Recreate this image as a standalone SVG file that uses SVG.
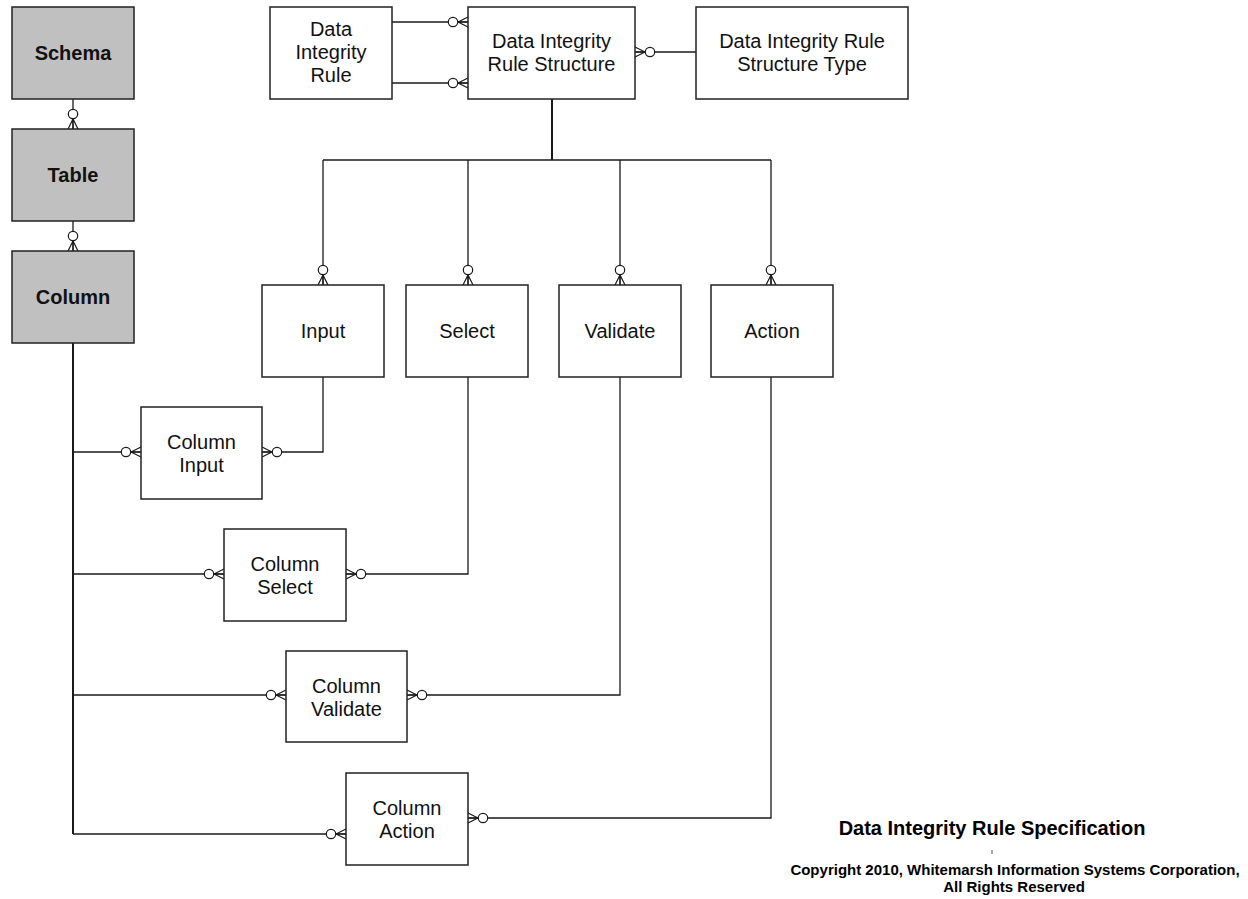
<svg xmlns="http://www.w3.org/2000/svg" width="1248" height="899" viewBox="0 0 1248 899">
  <style>
    .box { fill: #ffffff; stroke: #222222; stroke-width: 1.5; }
    .core { fill: #c0c0c0; stroke: #222222; stroke-width: 1.5; }
    .lbl { font-family: "Liberation Sans", Arial, sans-serif; font-size: 20px; fill: #111111; text-anchor: middle; }
    .bold { font-weight: bold; }
    .link { fill: none; stroke: #1a1a1a; stroke-width: 1.3; }
    .trunk { fill: none; stroke: #1a1a1a; stroke-width: 2; }
    .foot { font-family: "Liberation Sans", Arial, sans-serif; font-weight: bold; fill: #000000; text-anchor: middle; }
  </style>
  <defs>
    <!-- zero-or-many end: open circle plus crow's foot touching the entity -->
    <marker id="zeroMany" markerUnits="userSpaceOnUse" orient="auto" markerWidth="26" markerHeight="14" viewBox="-24 -7 26 14" refX="0" refY="0" overflow="visible">
      <path d="M-10,0 L0,-5 M-10,0 L0,5 M-10,0 L0,0" fill="none" stroke="#1a1a1a" stroke-width="1.2"/>
      <circle cx="-15" cy="0" r="4.7" fill="#ffffff" stroke="#1a1a1a" stroke-width="1.2"/>
    </marker>
  </defs>

  <g id="connectors">
    <path class="link" d="M73,99 V129" marker-end="url(#zeroMany)"/>
    <path class="link" d="M73,221 V251" marker-end="url(#zeroMany)"/>
    <path class="link" d="M392,22 H468" marker-end="url(#zeroMany)"/>
    <path class="link" d="M392,83 H468" marker-end="url(#zeroMany)"/>
    <path class="link" d="M696,52 H635" marker-end="url(#zeroMany)"/>
    <path class="trunk" d="M552,99 V160"/>
    <path class="link" d="M323,160 H771"/>
    <path class="link" d="M323,160 V285" marker-end="url(#zeroMany)"/>
    <path class="link" d="M468,160 V285" marker-end="url(#zeroMany)"/>
    <path class="link" d="M620,160 V285" marker-end="url(#zeroMany)"/>
    <path class="link" d="M771,160 V285" marker-end="url(#zeroMany)"/>
    <path class="link" d="M323,377 V452 H262" marker-end="url(#zeroMany)"/>
    <path class="link" d="M468,377 V574 H346" marker-end="url(#zeroMany)"/>
    <path class="link" d="M620,377 V695 H407" marker-end="url(#zeroMany)"/>
    <path class="link" d="M771,377 V818 H468" marker-end="url(#zeroMany)"/>
    <path class="trunk" d="M73,343 V834"/>
    <path class="link" d="M73,834 H346" marker-end="url(#zeroMany)"/>
    <path class="link" d="M73,452 H141" marker-end="url(#zeroMany)"/>
    <path class="link" d="M73,574 H224" marker-end="url(#zeroMany)"/>
    <path class="link" d="M73,695 H286" marker-end="url(#zeroMany)"/>
  </g>

  <g id="schema">
    <rect class="core" x="12" y="7" width="122" height="92"/>
    <text class="lbl bold" x="73" y="60">Schema</text>
  </g>
  <g id="table">
    <rect class="core" x="12" y="129" width="122" height="92"/>
    <text class="lbl bold" x="73" y="182">Table</text>
  </g>
  <g id="column">
    <rect class="core" x="12" y="251" width="122" height="92"/>
    <text class="lbl bold" x="73" y="304">Column</text>
  </g>

  <g id="data-integrity-rule">
    <rect class="box" x="270" y="7" width="122" height="92"/>
    <text class="lbl" x="331" y="36">Data</text>
    <text class="lbl" x="331" y="59">Integrity</text>
    <text class="lbl" x="331" y="82">Rule</text>
  </g>
  <g id="data-integrity-rule-structure">
    <rect class="box" x="468" y="7" width="167" height="92"/>
    <text class="lbl" x="551.5" y="48">Data Integrity</text>
    <text class="lbl" x="551.5" y="71">Rule Structure</text>
  </g>
  <g id="data-integrity-rule-structure-type">
    <rect class="box" x="696" y="7" width="212" height="92"/>
    <text class="lbl" x="802" y="48">Data Integrity Rule</text>
    <text class="lbl" x="802" y="71">Structure Type</text>
  </g>

  <g id="input">
    <rect class="box" x="262" y="285" width="122" height="92"/>
    <text class="lbl" x="323" y="338">Input</text>
  </g>
  <g id="select">
    <rect class="box" x="406" y="285" width="122" height="92"/>
    <text class="lbl" x="467" y="338">Select</text>
  </g>
  <g id="validate">
    <rect class="box" x="559" y="285" width="122" height="92"/>
    <text class="lbl" x="620" y="338">Validate</text>
  </g>
  <g id="action">
    <rect class="box" x="711" y="285" width="122" height="92"/>
    <text class="lbl" x="772" y="338">Action</text>
  </g>

  <g id="column-input">
    <rect class="box" x="141" y="407" width="121" height="92"/>
    <text class="lbl" x="201.5" y="449">Column</text>
    <text class="lbl" x="201.5" y="472">Input</text>
  </g>
  <g id="column-select">
    <rect class="box" x="224" y="529" width="122" height="92"/>
    <text class="lbl" x="285" y="571">Column</text>
    <text class="lbl" x="285" y="594">Select</text>
  </g>
  <g id="column-validate">
    <rect class="box" x="286" y="651" width="121" height="91"/>
    <text class="lbl" x="346.5" y="693">Column</text>
    <text class="lbl" x="346.5" y="716">Validate</text>
  </g>
  <g id="column-action">
    <rect class="box" x="346" y="773" width="122" height="92"/>
    <text class="lbl" x="407" y="815">Column</text>
    <text class="lbl" x="407" y="838">Action</text>
  </g>

  <g id="caption">
    <text class="foot" x="992" y="835" font-size="20">Data Integrity Rule Specification</text>
    <line x1="992" y1="850" x2="992" y2="854" stroke="#555555" stroke-width="1"/>
    <text class="foot" x="1015" y="875" font-size="15">Copyright 2010, Whitemarsh Information Systems Corporation,</text>
    <text class="foot" x="1014" y="892" font-size="15">All Rights Reserved</text>
  </g>
</svg>
